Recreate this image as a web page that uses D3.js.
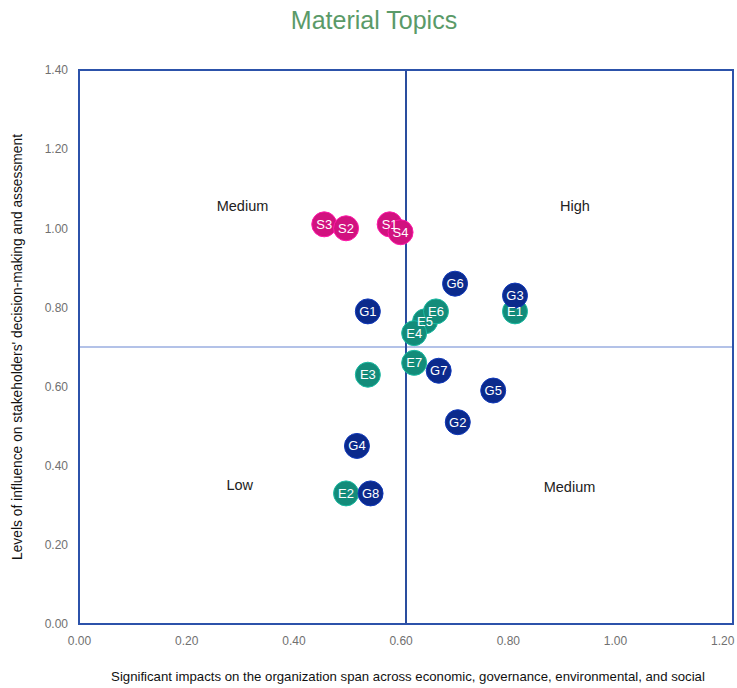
<!DOCTYPE html>
<html>
<head>
<meta charset="utf-8">
<script src="https://cdn.jsdelivr.net/npm/d3@7"></script>
<style>
  html, body { margin: 0; padding: 0; background: #ffffff; }
  svg { display: block; font-family: "Liberation Sans", Arial, sans-serif; }
</style>
</head>
<body>
<svg id="chart" width="737" height="688"></svg>
<script>
// Material topics: impact (x) vs stakeholder influence (y), drawn in stacking order
const topicLabels = ["S3", "S2", "S1", "S4", "E1", "G3", "G6", "G1", "E5", "E6", "E4", "G7", "E7", "E3", "G5", "G2", "G4", "E2", "G8"];
const impactValues = [0.45, 0.49, 0.57, 0.59, 0.80, 0.80, 0.69, 0.53, 0.635, 0.655, 0.615, 0.66, 0.615, 0.53, 0.76, 0.695, 0.51, 0.49, 0.535];
const influenceValues = [1.01, 1.00, 1.01, 0.99, 0.79, 0.83, 0.86, 0.79, 0.765, 0.79, 0.735, 0.64, 0.66, 0.63, 0.59, 0.51, 0.45, 0.33, 0.33];

const xTicks = [0, 0.2, 0.4, 0.6, 0.8, 1.0, 1.2];
const yTicks = [0, 0.2, 0.4, 0.6, 0.8, 1.0, 1.2, 1.4];
const xThreshold = 0.6;
const yThreshold = 0.7;

const quadrantNames = ["Medium", "High", "Low", "Medium"];
const quadrantX = [0.30, 0.91, 0.295, 0.90];
const quadrantY = [1.053, 1.053, 0.348, 0.343];

const groupColors = { S: "#d1127f", G: "#0b2a8c", E: "#138c7a" };

const svg = d3.select("#chart");
const margin = { left: 79, right: 4, top: 70, bottom: 64 };
const W = 737, H = 688;

const x = d3.scaleLinear().domain([0, 1.2]).range([margin.left, W - margin.right]);
const y = d3.scaleLinear().domain([0, 1.4]).range([H - margin.bottom, margin.top]);

// Title
svg.append("text")
  .attr("x", 374).attr("y", 29)
  .attr("text-anchor", "middle")
  .attr("font-size", 25)
  .attr("fill", "#5a9a68")
  .text("Material Topics");

// Axes (labels only, frame drawn separately)
const xAxis = svg.append("g")
  .attr("transform", `translate(0,${y(0)})`)
  .call(d3.axisBottom(x).tickValues(xTicks).tickFormat(d3.format(".2f")).tickSize(0).tickPadding(12));
xAxis.select(".domain").remove();
xAxis.selectAll("text")
  .attr("font-size", 12).attr("fill", "#707070")
  .attr("font-family", "Liberation Sans, Arial, sans-serif")
  .attr("dx", d => -d * 9);

const yAxis = svg.append("g")
  .attr("transform", `translate(${x(0)},0)`)
  .call(d3.axisLeft(y).tickValues(yTicks).tickFormat(d3.format(".2f")).tickSize(0).tickPadding(11));
yAxis.select(".domain").remove();
yAxis.selectAll("text")
  .attr("font-size", 12).attr("fill", "#707070")
  .attr("font-family", "Liberation Sans, Arial, sans-serif");

// Threshold lines
svg.append("line")
  .attr("x1", x(0)).attr("x2", x(1.2))
  .attr("y1", y(yThreshold)).attr("y2", y(yThreshold))
  .attr("stroke", "#9aaee0").attr("stroke-width", 1.5);
svg.append("line")
  .attr("x1", x(xThreshold)).attr("x2", x(xThreshold))
  .attr("y1", y(0)).attr("y2", y(1.4))
  .attr("stroke", "#2a4d9e").attr("stroke-width", 2);

// Plot frame
svg.append("rect")
  .attr("x", x(0)).attr("y", y(1.4))
  .attr("width", x(1.2) - x(0)).attr("height", y(0) - y(1.4))
  .attr("fill", "none").attr("stroke", "#2c52aa").attr("stroke-width", 2);

// Quadrant names
svg.selectAll(".quad").data(quadrantNames).join("text")
  .attr("class", "quad")
  .attr("x", (d, i) => x(quadrantX[i]))
  .attr("y", (d, i) => y(quadrantY[i]))
  .attr("text-anchor", "middle")
  .attr("dominant-baseline", "middle")
  .attr("font-size", 14.5)
  .attr("fill", "#222")
  .text(d => d);

// Topic markers, then their labels on a layer above all markers
const markerLayer = svg.append("g");
const labelLayer = svg.append("g");

markerLayer.selectAll("circle").data(topicLabels).join("circle")
  .attr("cx", (d, i) => x(impactValues[i]))
  .attr("cy", (d, i) => y(influenceValues[i]))
  .attr("r", 12.5)
  .attr("fill", d => groupColors[d[0]])
  .attr("stroke", d => d3.color(groupColors[d[0]]).brighter(0.8))
  .attr("stroke-width", 1);

labelLayer.selectAll("text").data(topicLabels).join("text")
  .attr("x", (d, i) => x(impactValues[i]))
  .attr("y", (d, i) => y(influenceValues[i]))
  .attr("text-anchor", "middle")
  .attr("dominant-baseline", "central")
  .attr("font-size", 13)
  .attr("fill", "#fff")
  .text(d => d);

// Axis titles
svg.append("text")
  .attr("transform", `translate(22,${(y(0) + y(1.4)) / 2}) rotate(-90)`)
  .attr("text-anchor", "middle")
  .attr("font-size", 13.8)
  .attr("fill", "#111")
  .text("Levels of influence on stakeholders' decision-making and assessment");

svg.append("text")
  .attr("x", 408).attr("y", 681)
  .attr("text-anchor", "middle")
  .attr("font-size", 13.2)
  .attr("fill", "#111")
  .text("Significant impacts on the organization span across economic, governance, environmental, and social");
</script>
</body>
</html>
